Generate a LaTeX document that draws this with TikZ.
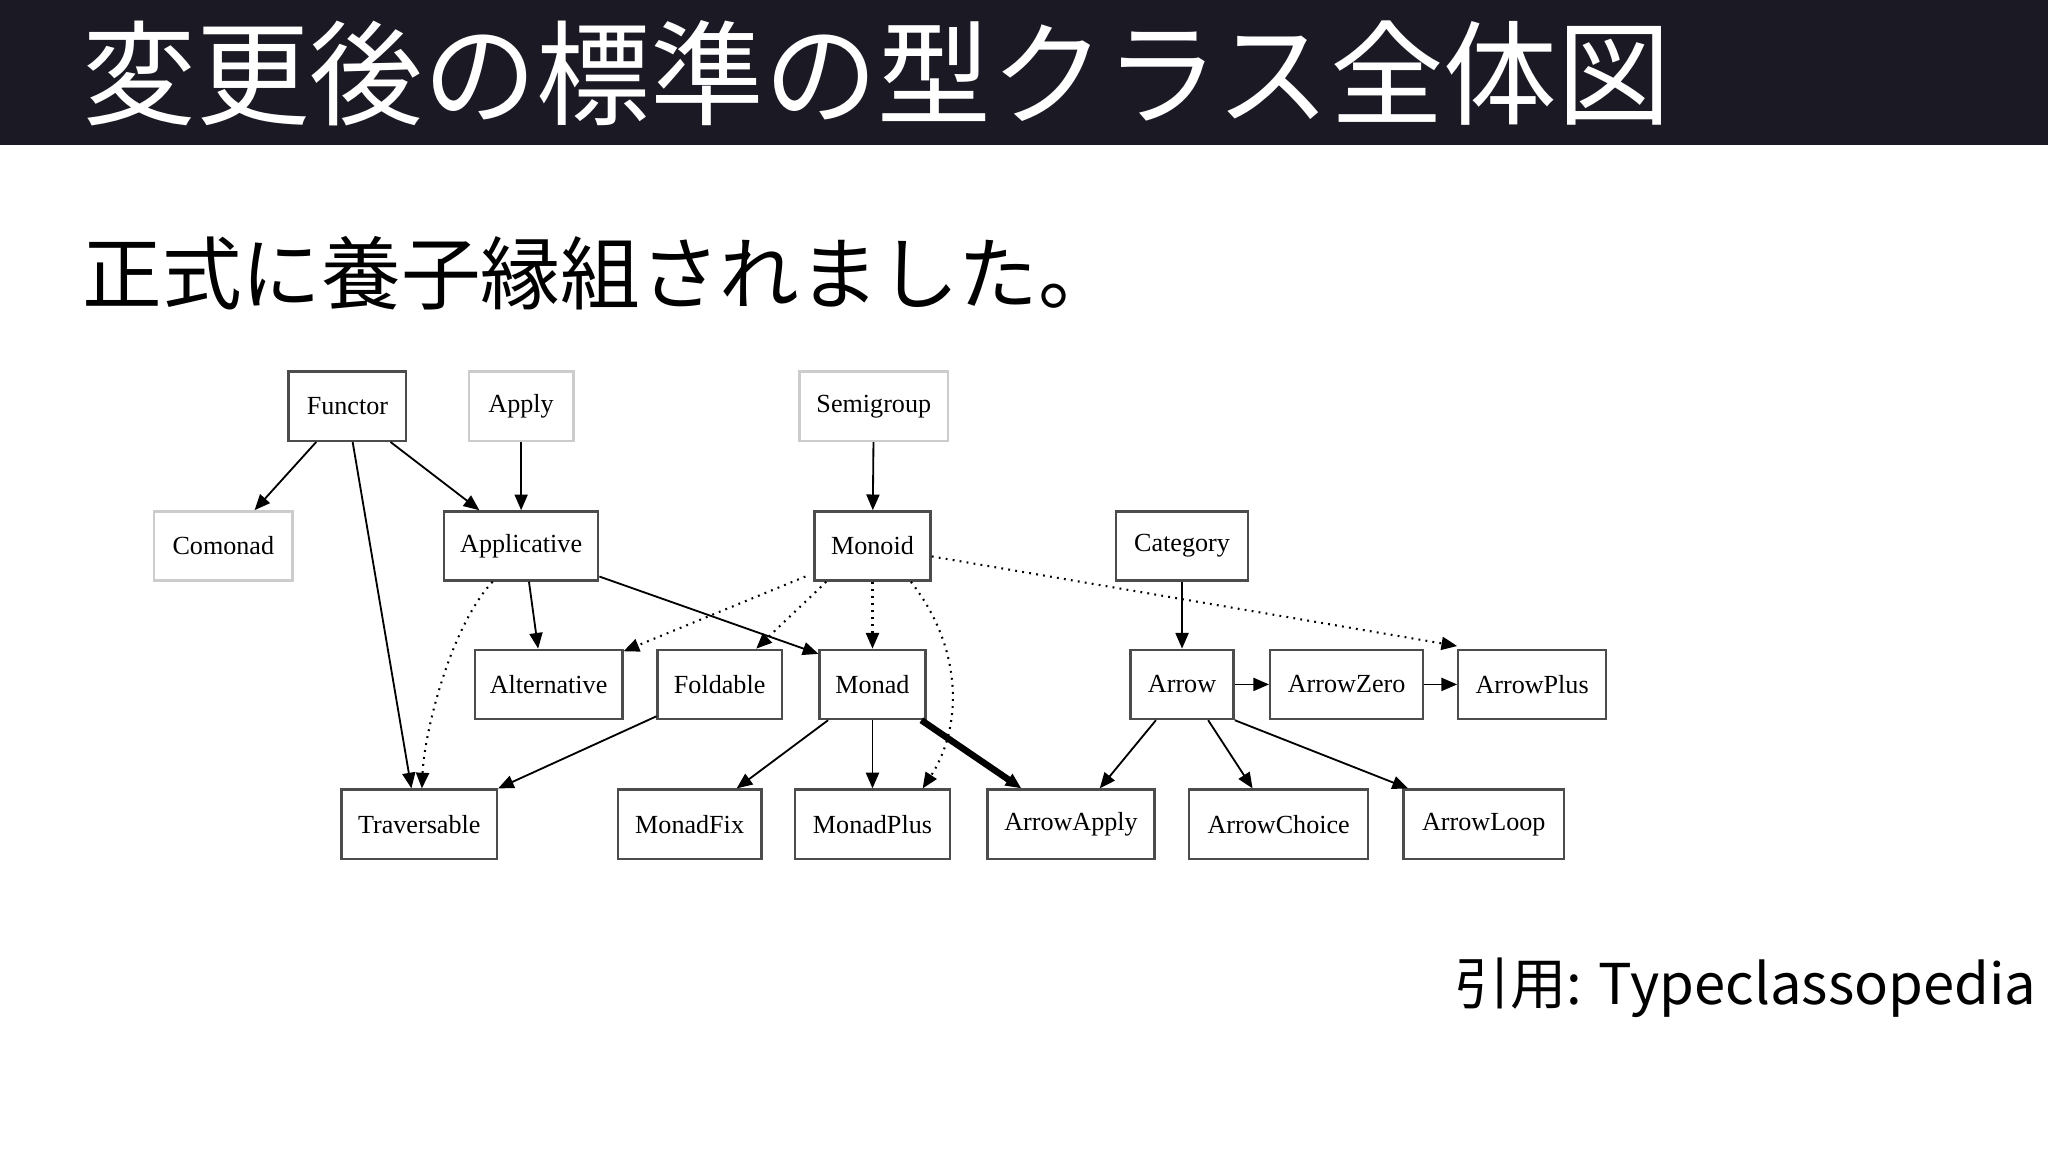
\documentclass[tikz,border=0pt]{standalone}
\usepackage{fontspec}
\setmainfont{Liberation Serif}
\newfontfamily\cjk{Noto Sans CJK JP}
\usetikzlibrary{arrows.meta,calc}
\definecolor{bar}{HTML}{1B1A24}
\begin{document}
\begin{tikzpicture}[x=0.5pt,y=-0.5pt,
  nd/.style={draw=black!70,line width=0.9pt,minimum height=26.5pt,inner sep=0pt,font=\fontsize{10}{12}\selectfont},
  lt/.style={nd,draw=black!20},
  e/.style={-{Triangle[length=6pt,width=5pt]},line width=0.7pt},
  d/.style={e,dotted,line width=0.8pt}]
\useasboundingbox (0,0) rectangle (1568,880);
\fill[bar] (0,0) rectangle (1568,111);
\node[anchor=west,text=white,font=\cjk\fontsize{43.5}{48}\selectfont] (t) at (56,56) {変更後の標準の型クラス全体図};
\node[anchor=west,font=\cjk\fontsize{30.5}{36}\selectfont] (s) at (56,209) {正式に養子縁組されました。};
\node[anchor=east,font=\cjk\fontsize{21.5}{26}\selectfont] (c) at (1566,756) {引用: Typeclassopedia};
\node[nd,minimum width=45pt] (Functor) at (266,311) {Functor};
\node[lt,minimum width=40pt] (Apply) at (399,311) {Apply};
\node[lt,minimum width=57pt] (Semigroup) at (669,311) {Semigroup};
\node[lt,minimum width=53pt] (Comonad) at (171,418) {Comonad};
\node[nd,minimum width=59pt] (Applicative) at (399,418) {Applicative};
\node[nd,minimum width=44.5pt] (Monoid) at (668,418) {Monoid};
\node[nd,minimum width=50.5pt] (Category) at (905,418) {Category};
\node[nd,minimum width=56.5pt] (Alternative) at (420,524) {Alternative};
\node[nd,minimum width=47.5pt] (Foldable) at (551,524) {Foldable};
\node[nd,minimum width=40.5pt] (Monad) at (668,524) {Monad};
\node[nd,minimum width=39.5pt] (Arrow) at (905,524) {Arrow};
\node[nd,minimum width=58.5pt] (ArrowZero) at (1031,524) {ArrowZero};
\node[nd,minimum width=56.5pt] (ArrowPlus) at (1173,524) {ArrowPlus};
\node[nd,minimum width=59.5pt] (Traversable) at (321,631) {Traversable};
\node[nd,minimum width=55pt] (MonadFix) at (528,631) {MonadFix};
\node[nd,minimum width=59.5pt] (MonadPlus) at (668,631) {MonadPlus};
\node[nd,minimum width=64pt] (ArrowApply) at (820,631) {ArrowApply};
\node[nd,minimum width=68.5pt] (ArrowChoice) at (979,631) {ArrowChoice};
\node[nd,minimum width=61.5pt] (ArrowLoop) at (1136,631) {ArrowLoop};
\draw[e] ($(Functor.south west)+(22,0)$) -- ($(Comonad.north east)+(-30,0)$);
\draw[e] ($(Functor.south)+(33,0)$) -- ($(Applicative.north)+(-32,0)$);
\draw[e] ($(Functor.south)+(4,0)$) -- ($(Traversable.north)+(-6,0)$);
\draw[e] (Apply) -- (Applicative);
\draw[e] (Semigroup) -- (Monoid);
\draw[e] ($(Applicative.south)+(6,0)$) -- ($(Alternative.north)+(-8,0)$);
\draw[e] ($(Applicative.south east)+(0,-4)$) -- ($(Monad.north west)+(0,4)$);
\draw[d] ($(Applicative.south west)+(38,0)$) .. controls (345,480) and (325,560) .. ($(Traversable.north)+(2,0)$);
\draw[d] ($(Monoid.south west)+(-6,-4)$) -- ($(Alternative.north east)+(0,2)$);
\draw[d] ($(Monoid.south west)+(10,0)$) -- ($(Foldable.north)+(28,0)$);
\draw[d] (Monoid) -- (Monad);
\draw[d] ($(Monoid.south east)+(-16,0)$) .. controls (740,500) and (735,560) .. ($(MonadPlus.north east)+(-22,0)$);
\draw[d] ($(Monoid.east)+(0,8)$) -- ($(ArrowPlus.north west)+(0,-2)$);
\draw[e] (Category) -- (Arrow);
\draw[e] (Arrow) -- (ArrowZero);
\draw[e] (ArrowZero) -- (ArrowPlus);
\draw[e] ($(Foldable.south west)+(0,-3)$) -- (Traversable.north east);
\draw[e] ($(Monad.south)+(-34,0)$) -- ($(MonadFix.north)+(36,0)$);
\draw[e] (Monad) -- (MonadPlus);
\draw[e,line width=2.5pt] ($(Monad.south east)+(-4,0)$) -- ($(ArrowApply.north)+(-38,0)$);
\draw[e] ($(Arrow.south)+(-20,0)$) -- ($(ArrowApply.north)+(22,0)$);
\draw[e] ($(Arrow.south)+(20,0)$) -- ($(ArrowChoice.north)+(-20,0)$);
\draw[e] (Arrow.south east) -- ($(ArrowLoop.north)+(-58,0)$);
\end{tikzpicture}
\end{document}
